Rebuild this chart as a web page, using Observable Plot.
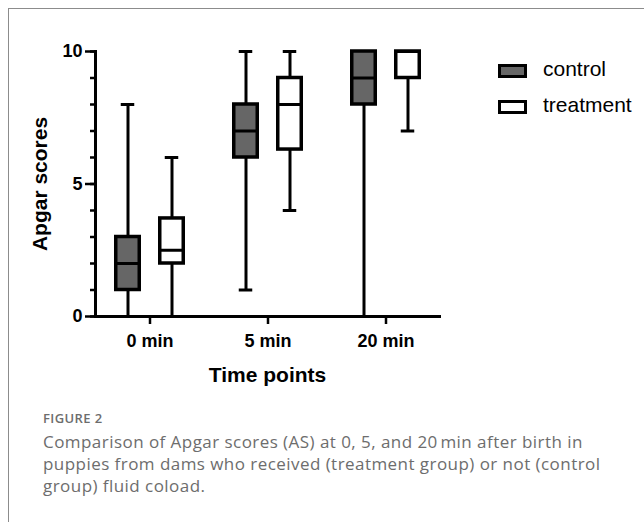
<!DOCTYPE html>
<html>
<head>
<meta charset="utf-8">
<script src="https://cdn.jsdelivr.net/npm/d3@7"></script>
<script src="https://cdn.jsdelivr.net/npm/@observablehq/plot@0.6"></script>
<style>
  html, body { margin: 0; padding: 0; background: #fff; }
  body { width: 644px; height: 522px; overflow: hidden; position: relative; font-family: "Liberation Sans", Arial, sans-serif; }
  #border { position: absolute; left: 8px; top: 8px; width: 700px; height: 600px; border-left: 1.5px solid #8c8c8c; border-top: 1.5px solid #8c8c8c; }
  #chart { position: absolute; left: 0; top: 0; }
  .legend-item { position: absolute; left: 498px; display: flex; align-items: center; }
  .swatch { box-sizing: border-box; width: 29px; height: 14px; border: 3.5px solid #000; }
  .legend-label { margin-left: 16px; font-size: 21px; color: #000; line-height: 1; position: relative; top: -2px; }
  #fig { position: absolute; left: 43px; top: 409px; font-family: "Open Sans", sans-serif; font-size: 13px; letter-spacing: 0.4px; font-weight: 600; color: #6d6d6d; }
  #caption { position: absolute; left: 43px; top: 431px; width: 575px; font-family: "Open Sans", sans-serif; font-size: 17px; letter-spacing: 0.45px; line-height: 22px; color: #6d6d6d; }
</style>
</head>
<body>
<div id="border"></div>
<div id="chart"></div>
<div id="legend"></div>
<div id="fig">FIGURE 2</div>
<div id="caption">Comparison of Apgar scores (AS) at 0, 5, and 20&#8239;min after birth in puppies from dams who received (treatment group) or not (control group) fluid coload.</div>
<script>
// ---- data ----
const times = ["0 min", "5 min", "20 min"];
const groups = ["control", "treatment"];
const groupFills = ["#666666", "#ffffff"];

const controlMin    = [0, 1, 0];
const controlQ1     = [1, 6, 8];
const controlMedian = [2, 7, 9];
const controlQ3     = [3, 8, 10];
const controlMax    = [8, 10, 10];

const treatmentMin    = [0, 4, 7];
const treatmentQ1     = [2, 6.3, 9];
const treatmentMedian = [2.5, 8, 10];
const treatmentQ3     = [3.7, 9, 10];
const treatmentMax    = [6, 10, 10];

const yMajorTicks = [0, 5, 10];
const yMinorTicks = [0, 1, 2, 3, 4, 5, 6, 7, 8, 9, 10];
const xLabel = "Time points";
const yLabel = "Apgar scores";

const stats = {
  control:   {min: controlMin, q1: controlQ1, median: controlMedian, q3: controlQ3, max: controlMax},
  treatment: {min: treatmentMin, q1: treatmentQ1, median: treatmentMedian, q3: treatmentQ3, max: treatmentMax}
};

function rowsFor(g) {
  const s = stats[g];
  return times.map((t, i) => ({time: t, group: g, min: s.min[i], q1: s.q1[i], median: s.median[i], q3: s.q3[i], max: s.max[i]}));
}

// band geometry: bandwidth ~59.5px, boxes ~24px, caps ~14px
const offsets = {control: -22, treatment: 22};
const boxInset = 17.75;
const capInset = 22.75;
const boxMarks = [];
groups.forEach((g, gi) => {
  const rows = rowsFor(g);
  const dx = offsets[g];
  boxMarks.push(
    Plot.ruleX(rows, {x: "time", y1: "min", y2: "max", dx, stroke: "#000", strokeWidth: 3}),
    Plot.tickY(rows, {x: "time", y: "min", dx, stroke: "#000", strokeWidth: 3, insetLeft: capInset, insetRight: capInset}),
    Plot.tickY(rows, {x: "time", y: "max", dx, stroke: "#000", strokeWidth: 3, insetLeft: capInset, insetRight: capInset}),
    Plot.barY(rows, {x: "time", y1: "q1", y2: "q3", dx, fill: groupFills[gi], stroke: "#000", strokeWidth: 3.5, insetLeft: boxInset, insetRight: boxInset}),
    Plot.tickY(rows, {x: "time", y: "median", dx, stroke: "#000", strokeWidth: 3, insetLeft: boxInset, insetRight: boxInset})
  );
});

const chart = Plot.plot({
  width: 644,
  height: 400,
  marginLeft: 95,
  marginRight: 205,
  marginTop: 51,
  marginBottom: 84,
  style: {fontFamily: "'Liberation Sans', Arial, sans-serif", fontSize: "18px", fontWeight: "bold", color: "#000", background: "transparent"},
  x: {type: "band", domain: times, paddingInner: 0.5, paddingOuter: 0.1954},
  y: {domain: [0, 10]},
  marks: [
    ...boxMarks,
    Plot.axisY({ticks: yMinorTicks, tickSize: 5, strokeWidth: 2.5, tickFormat: () => "", label: null}),
    Plot.axisY({ticks: yMajorTicks, tickSize: 10, tickPadding: 3, strokeWidth: 2.5, label: null, fontSize: 18, fontWeight: "bold"}),
    Plot.axisX({tickSize: 8, tickPadding: 10, strokeWidth: 2.5, label: null, fontSize: 18, fontWeight: "bold"}),
    Plot.frame({anchor: "left", strokeWidth: 3}),
    Plot.frame({anchor: "bottom", strokeWidth: 3}),
    Plot.text([xLabel], {text: d => d, frameAnchor: "bottom", lineAnchor: "bottom", dy: 65, fontSize: 21, fontWeight: "bold"}),
    Plot.text([yLabel], {text: d => d, frameAnchor: "left", textAnchor: "middle", rotate: -90, dx: -55, fontSize: 21, fontWeight: "bold"})
  ]
});
document.getElementById("chart").appendChild(chart);

// legend
const legend = document.getElementById("legend");
const legendTops = [60, 96];
groups.forEach((g, i) => {
  const item = document.createElement("div");
  item.className = "legend-item";
  item.style.top = legendTops[i] + "px";
  const sw = document.createElement("div");
  sw.className = "swatch";
  sw.style.background = groupFills[i];
  const lab = document.createElement("span");
  lab.className = "legend-label";
  lab.textContent = g;
  item.appendChild(sw);
  item.appendChild(lab);
  legend.appendChild(item);
});
</script>
</body>
</html>
